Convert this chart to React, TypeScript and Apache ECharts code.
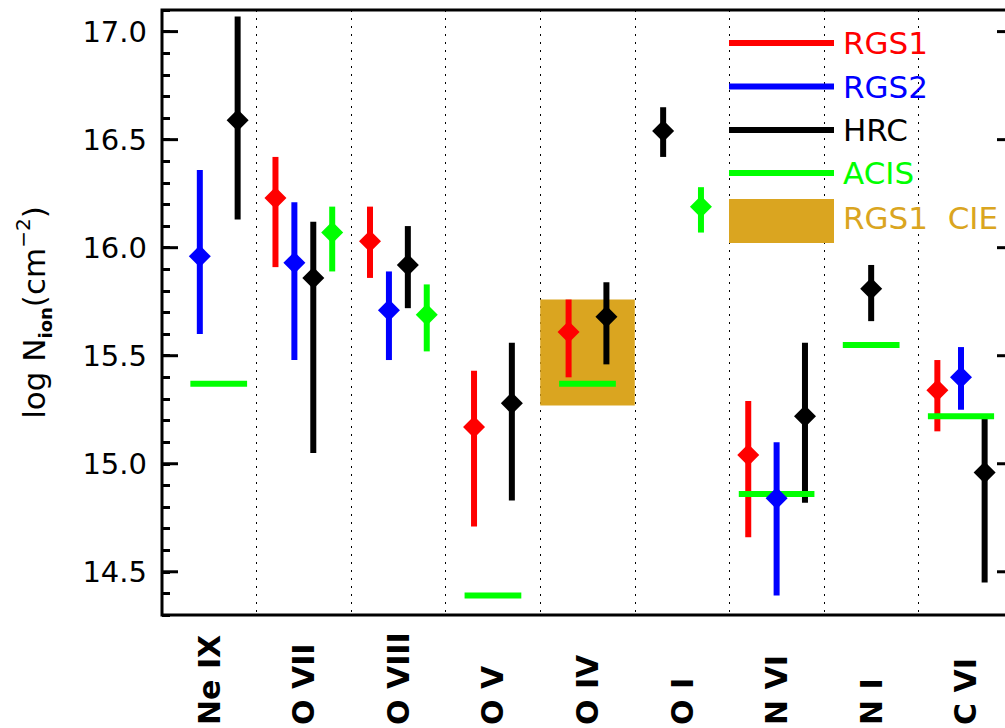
import React, { useEffect, useRef } from "react";
import * as echarts from "echarts";

const categories = ["Ne IX", "O VII", "O VIII", "O V", "O IV", "O I", "N VI", "N I", "C VI"];
const yTickValues = [14.5, 15.0, 15.5, 16.0, 16.5, 17.0];

// RGS1 (x position along category index axis, value, low, high)
const rgs1X = [1.2, 2.2, 3.3, 4.3, 6.2, 8.2];
const rgs1Val = [16.23, 16.03, 15.17, 15.61, 15.04, 15.34];
const rgs1Lo = [15.91, 15.86, 14.71, 15.40, 14.66, 15.15];
const rgs1Hi = [16.42, 16.19, 15.43, 15.76, 15.29, 15.48];

// RGS2
const rgs2X = [0.4, 1.4, 2.4, 6.5, 8.45];
const rgs2Val = [15.96, 15.93, 15.71, 14.84, 15.40];
const rgs2Lo = [15.60, 15.48, 15.48, 14.39, 15.25];
const rgs2Hi = [16.36, 16.21, 15.89, 15.10, 15.54];

// HRC
const hrcX = [0.8, 1.6, 2.6, 3.7, 4.7, 5.3, 6.8, 7.5, 8.7];
const hrcVal = [16.59, 15.86, 15.92, 15.28, 15.68, 16.54, 15.22, 15.81, 14.96];
const hrcLo = [16.13, 15.05, 15.72, 14.83, 15.46, 16.42, 14.82, 15.66, 14.45];
const hrcHi = [17.07, 16.12, 16.10, 15.56, 15.84, 16.65, 15.56, 15.92, 15.21];

// ACIS with error bars
const acisX = [1.8, 2.8, 5.7];
const acisVal = [16.07, 15.69, 16.19];
const acisLo = [15.89, 15.52, 16.07];
const acisHi = [16.19, 15.83, 16.28];

// ACIS horizontal levels (x start, x end, value)
const acisLevelX0 = [0.3, 3.2, 4.2, 6.1, 7.2, 8.1];
const acisLevelX1 = [0.9, 3.8, 4.8, 6.9, 7.8, 8.8];
const acisLevelVal = [15.37, 14.39, 15.37, 14.86, 15.55, 15.22];

// RGS1 CIE band (O IV)
const cieX0 = [4.0];
const cieX1 = [5.0];
const cieLo = [15.27];
const cieHi = [15.76];

const RED = "#ff0000";
const BLUE = "#0000ff";
const BLACK = "#000000";
const GREEN = "#00ff00";
const GOLD = "#DAA520";
const FONT = "DejaVu Sans";

function barSeries(name: string, color: string, xs: number[], lo: number[], hi: number[]) {
  return {
    type: "custom",
    name: name + " err",
    xAxisIndex: 1,
    yAxisIndex: 0,
    data: xs.map((x, i) => [x, lo[i], hi[i]]),
    encode: { x: 0, y: [1, 2] },
    renderItem: (params: any, api: any) => {
      const p1 = api.coord([api.value(0), api.value(1)]);
      const p2 = api.coord([api.value(0), api.value(2)]);
      return {
        type: "line",
        shape: { x1: p1[0], y1: p1[1], x2: p2[0], y2: p2[1] },
        style: { stroke: color, lineWidth: 6, lineCap: "butt" },
      };
    },
    z: 3,
  };
}

function diamondSeries(name: string, color: string, xs: number[], vals: number[]) {
  return {
    type: "scatter",
    name,
    xAxisIndex: 1,
    yAxisIndex: 0,
    symbol: "diamond",
    symbolSize: 22,
    itemStyle: { color, opacity: 1 },
    data: xs.map((x, i) => [x, vals[i]]),
    z: 5,
  };
}

export default function App() {
  const ref = useRef<HTMLDivElement>(null);
  useEffect(() => {
    if (!ref.current) return;
    const chart = echarts.init(ref.current, null, { renderer: "svg" });
    const legendLines = [
      { label: "RGS1", color: RED, y: 43 },
      { label: "RGS2", color: BLUE, y: 86.5 },
      { label: "HRC", color: BLACK, y: 130 },
      { label: "ACIS", color: GREEN, y: 173 },
    ];
    const graphic: any[] = [];
    legendLines.forEach((l) => {
      graphic.push({
        type: "line",
        shape: { x1: 729, y1: l.y, x2: 834, y2: l.y },
        style: { stroke: l.color, lineWidth: 6 },
        z: 10,
      });
      graphic.push({
        type: "text",
        x: 843,
        y: l.y,
        style: { text: l.label, fill: l.color, font: `31px '${FONT}'`, align: "left", verticalAlign: "middle" },
        z: 10,
      });
    });
    graphic.push({
      type: "rect",
      shape: { x: 729, y: 199, width: 105, height: 44 },
      style: { fill: GOLD },
      z: 10,
    });
    graphic.push({
      type: "text",
      x: 843,
      y: 218,
      style: { text: "RGS1  CIE", fill: GOLD, font: `31px '${FONT}'`, align: "left", verticalAlign: "middle" },
      z: 10,
    });

    const yCommon = {
      type: "value",
      min: 14.3,
      max: 17.1,
      interval: 0.1,
      axisLine: { show: false },
      splitLine: { show: false },
      axisTick: { show: true, inside: true, length: 8, lineStyle: { color: "#000", width: 3 } },
    };

    chart.setOption({
      animation: false,
      grid: {
        left: 162,
        top: 10,
        width: 851,
        height: 607.5,
        show: true,
        borderColor: "#000",
        borderWidth: 3,
        backgroundColor: "transparent",
      },
      graphic,
      xAxis: [
        {
          type: "category",
          data: categories,
          boundaryGap: true,
          axisLine: { show: false },
          axisTick: { show: false },
          splitLine: { show: true, interval: 0, lineStyle: { color: "#000", width: 1, type: [2, 6] } },
          axisLabel: {
            interval: 0,
            rotate: 90,
            align: "left",
            verticalAlign: "middle",
            margin: 110,
            fontFamily: FONT,
            fontWeight: "bold",
            fontSize: 30,
            color: "#000",
          },
        },
        { type: "value", min: 0, max: 9, show: false },
      ],
      yAxis: [
        {
          ...yCommon,
          position: "left",
          axisLabel: {
            show: true,
            margin: 15,
            fontFamily: FONT,
            fontSize: 29,
            color: "#000",
            formatter: (v: number) => {
              const r = Math.round(v * 10);
              return r % 5 === 0 ? (r / 10).toFixed(1) : "";
            },
          },
          name: "{a|log N}{b|ion}{a|(cm}{c|−2}{a|)}",
          nameLocation: "middle",
          nameRotate: 90,
          nameGap: 104,
          nameTextStyle: {
            rich: {
              a: { fontFamily: FONT, fontSize: 31, color: "#000", lineHeight: 48, verticalAlign: "middle" },
              b: { fontFamily: FONT, fontSize: 18, fontWeight: "bold", color: "#000", lineHeight: 48, verticalAlign: "bottom", padding: [0, 0, 4, 0] },
              c: { fontFamily: FONT, fontSize: 20, color: "#000", lineHeight: 48, verticalAlign: "top", padding: [3, 0, 0, 0] },
            },
          },
        },
        {
          ...yCommon,
          position: "right",
          axisLabel: { show: false },
        },
      ],
      series: [
        {
          type: "custom",
          name: "RGS1 CIE",
          xAxisIndex: 1,
          yAxisIndex: 0,
          data: cieX0.map((x, i) => [x, cieX1[i], cieLo[i], cieHi[i]]),
          encode: { x: [0, 1], y: [2, 3] },
          renderItem: (params: any, api: any) => {
            const p1 = api.coord([api.value(0), api.value(3)]);
            const p2 = api.coord([api.value(1), api.value(2)]);
            return {
              type: "rect",
              shape: { x: p1[0], y: p1[1], width: p2[0] - p1[0], height: p2[1] - p1[1] },
              style: { fill: GOLD },
            };
          },
          z: 1,
        },
        {
          type: "custom",
          name: "major ticks",
          xAxisIndex: 1,
          yAxisIndex: 0,
          data: yTickValues.map((v) => [v]),
          encode: { y: 0 },
          renderItem: (params: any, api: any) => {
            const v = api.value(0);
            const l = api.coord([0, v]);
            const r = api.coord([9, v]);
            return {
              type: "group",
              children: [
                { type: "line", shape: { x1: l[0], y1: l[1], x2: l[0] + 16, y2: l[1] }, style: { stroke: "#000", lineWidth: 3 } },
                { type: "line", shape: { x1: r[0] - 16, y1: r[1], x2: r[0], y2: r[1] }, style: { stroke: "#000", lineWidth: 3 } },
              ],
            };
          },
          z: 2,
        },
        barSeries("RGS1", RED, rgs1X, rgs1Lo, rgs1Hi),
        barSeries("RGS2", BLUE, rgs2X, rgs2Lo, rgs2Hi),
        barSeries("HRC", BLACK, hrcX, hrcLo, hrcHi),
        barSeries("ACIS", GREEN, acisX, acisLo, acisHi),
        {
          type: "custom",
          name: "ACIS level",
          xAxisIndex: 1,
          yAxisIndex: 0,
          data: acisLevelX0.map((x, i) => [x, acisLevelX1[i], acisLevelVal[i]]),
          encode: { x: [0, 1], y: 2 },
          renderItem: (params: any, api: any) => {
            const p1 = api.coord([api.value(0), api.value(2)]);
            const p2 = api.coord([api.value(1), api.value(2)]);
            return {
              type: "line",
              shape: { x1: p1[0], y1: p1[1], x2: p2[0], y2: p2[1] },
              style: { stroke: GREEN, lineWidth: 6, lineCap: "butt" },
            };
          },
          z: 4,
        },
        diamondSeries("RGS1", RED, rgs1X, rgs1Val),
        diamondSeries("RGS2", BLUE, rgs2X, rgs2Val),
        diamondSeries("HRC", BLACK, hrcX, hrcVal),
        diamondSeries("ACIS", GREEN, acisX, acisVal),
      ],
    });
    return () => chart.dispose();
  }, []);
  return (
    <div style={{ position: "absolute", left: 0, top: 0, width: 1005, height: 728, overflow: "hidden", background: "#fff" }}>
      <div ref={ref} style={{ width: 1021, height: 728 }} />
    </div>
  );
}
